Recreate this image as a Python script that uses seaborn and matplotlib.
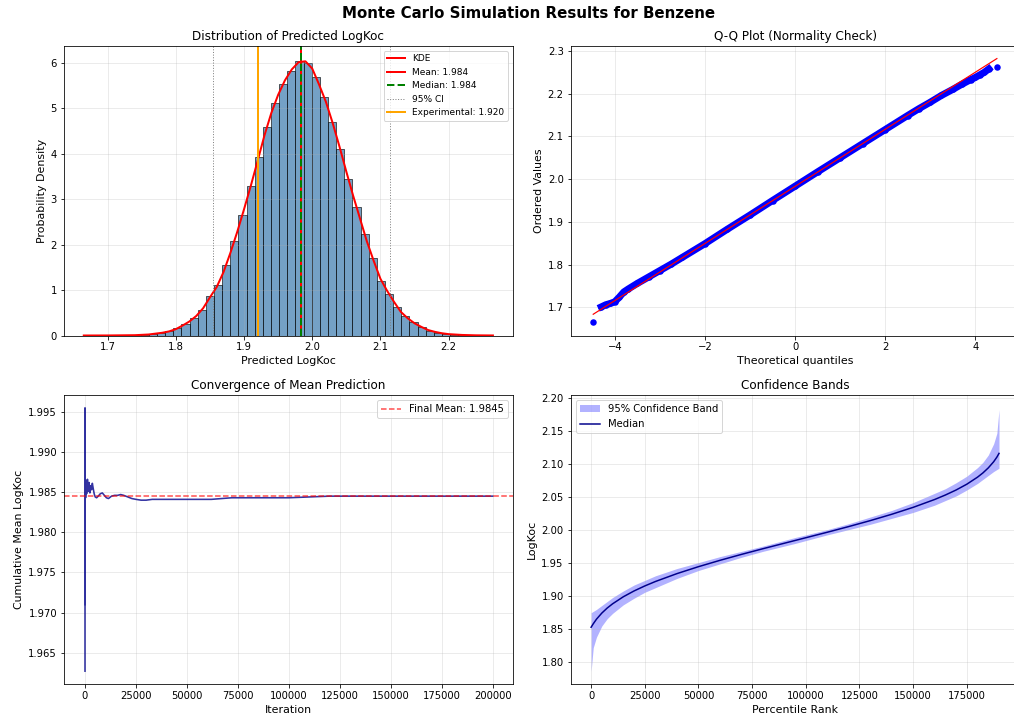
import matplotlib
matplotlib.use("Agg")
import matplotlib.pyplot as plt
import numpy as np
import pandas as pd
import seaborn as sns

# ---- Histogram of predicted LogKoc (density per bin) ----
bin_start = 1.665
bin_width = 0.01194
hist_density = [
    0.0004, 0.0004, 0.0008, 0.0015, 0.003, 0.005, 0.009, 0.016, 0.028, 0.05,
    0.09, 0.16, 0.26, 0.38, 0.56, 0.86, 1.12, 1.55, 2.09, 2.66,
    3.29, 3.94, 4.60, 5.13, 5.55, 5.83, 6.05, 6.00, 5.69, 5.26,
    4.71, 4.10, 3.44, 2.84, 2.23, 1.70, 1.21, 0.92, 0.62, 0.42,
    0.29, 0.18, 0.11, 0.066, 0.04, 0.022, 0.012, 0.006, 0.003, 0.0015,
]

# Kernel density estimate of the same predictions
kde_x = [1.665, 1.70, 1.74, 1.76, 1.78, 1.79, 1.80, 1.81, 1.82, 1.83, 1.84,
         1.85, 1.86, 1.87, 1.88, 1.89, 1.90, 1.91, 1.92, 1.93, 1.94, 1.95,
         1.96, 1.97, 1.98, 1.99, 2.00, 2.01, 2.02, 2.03, 2.04, 2.05, 2.06,
         2.07, 2.08, 2.09, 2.10, 2.11, 2.12, 2.13, 2.14, 2.15, 2.16, 2.17,
         2.18, 2.19, 2.20, 2.22, 2.24, 2.265]
kde_y = [0.000, 0.001, 0.007, 0.022, 0.06, 0.09, 0.14, 0.22, 0.31, 0.43, 0.60,
         0.84, 1.07, 1.40, 1.82, 2.28, 2.78, 3.30, 3.85, 4.41, 4.90, 5.30,
         5.62, 5.86, 6.02, 6.04, 5.88, 5.53, 5.15, 4.68, 4.16, 3.61, 3.08,
         2.58, 2.08, 1.65, 1.25, 0.98, 0.74, 0.52, 0.38, 0.27, 0.19, 0.12,
         0.08, 0.05, 0.03, 0.012, 0.004, 0.001]

mean_value = 1.984
median_value = 1.984
ci_low, ci_high = 1.854, 2.114
experimental_value = 1.920

# ---- Q-Q plot ----
qq_theoretical = [-4.48, -4.30, -4.20, -4.10, -4.00, -3.90, -3.80, -3.70, -3.50,
                  -3.25, -3.00, -2.75, -2.50, -2.00, -1.50, -1.00, -0.50, 0.00,
                  0.50, 1.00, 1.50, 2.00, 2.50, 2.75, 3.00, 3.25, 3.50, 3.70,
                  3.90, 4.00, 4.10, 4.20, 4.30, 4.48]
qq_ordered = [1.665, 1.701, 1.706, 1.709, 1.713, 1.724, 1.736, 1.743, 1.756,
              1.771, 1.786, 1.801, 1.817, 1.849, 1.883, 1.916, 1.950, 1.9835,
              2.017, 2.050, 2.083, 2.116, 2.149, 2.165, 2.180, 2.196, 2.210,
              2.222, 2.233, 2.238, 2.244, 2.250, 2.258, 2.262]
qq_fit_slope = 0.0668
qq_fit_intercept = 1.983

# ---- Running mean convergence ----
conv_iter = [1, 2, 3, 4, 6, 10, 20, 40, 80, 150, 300, 500, 800, 1200, 1600,
             2000, 2400, 2800, 3200, 3600, 4000, 4500, 5000, 5700, 6500, 7500,
             8500, 9500, 10500, 11500, 13000, 14500, 16000, 17500, 19000,
             21000, 23000, 25000, 27500, 30000, 33000, 37000, 42000, 47000,
             52000, 57000, 62000, 67000, 72000, 80000, 90000, 100000, 110000,
             120000, 130000, 145000, 160000, 175000, 190000, 200000]
conv_mean = [1.9627, 1.9955, 1.9710, 1.9905, 1.9760, 1.9880, 1.9800, 1.9870,
             1.9835, 1.9866, 1.9843, 1.9864, 1.9848, 1.9866, 1.9851, 1.9862,
             1.9849, 1.9858, 1.9853, 1.9861, 1.9855, 1.9848, 1.9844, 1.9843,
             1.9845, 1.9848, 1.9849, 1.9846, 1.9843, 1.9842, 1.9845, 1.9846,
             1.9846, 1.9847, 1.9846, 1.9844, 1.9842, 1.9841, 1.9840, 1.9840,
             1.9841, 1.9841, 1.9841, 1.9841, 1.9841, 1.9841, 1.9841, 1.9842,
             1.9843, 1.9843, 1.9843, 1.9843, 1.9844, 1.9845, 1.9845, 1.9845,
             1.9845, 1.9845, 1.9845, 1.9845]
final_mean = 1.9845

# ---- Confidence bands over percentile rank ----
band_rank = [0, 1000, 2500, 5000, 7500, 10000, 15000, 20000, 25000, 30000,
             40000, 50000, 60000, 70000, 80000, 95000, 110000, 120000, 130000,
             140000, 150000, 160000, 165000, 170000, 175000, 180000, 182500,
             185000, 187500, 189000, 190000]
band_median = [1.853, 1.8582, 1.8652, 1.8745, 1.8821, 1.8885, 1.8992, 1.9080,
               1.9156, 1.9224, 1.9343, 1.9448, 1.9544, 1.9634, 1.9720, 1.9845,
               1.9970, 2.0056, 2.0146, 2.0242, 2.0347, 2.0466, 2.0534, 2.0610,
               2.0698, 2.0805, 2.0869, 2.0945, 2.1038, 2.1108, 2.1165]
band_lower = [1.786, 1.822, 1.838, 1.855, 1.866, 1.874, 1.887, 1.897, 1.906,
              1.913, 1.927, 1.939, 1.949, 1.959, 1.968, 1.980, 1.993, 2.001,
              2.009, 2.018, 2.027, 2.038, 2.045, 2.052, 2.061, 2.071, 2.077,
              2.083, 2.089, 2.092, 2.094]
band_upper = [1.875, 1.877, 1.880, 1.886, 1.892, 1.898, 1.908, 1.917, 1.924,
              1.931, 1.942, 1.951, 1.960, 1.968, 1.976, 1.989, 2.001, 2.010,
              2.020, 2.030, 2.042, 2.056, 2.063, 2.072, 2.082, 2.095, 2.103,
              2.114, 2.131, 2.147, 2.183]

# ---------------------------------------------------------------------------
plt.rcParams.update({
    "font.family": ["DejaVu Sans"],
    "font.size": 10,
    "axes.titlesize": 12,
    "axes.labelsize": 11,
    "xtick.labelsize": 10,
    "ytick.labelsize": 10,
    "legend.fontsize": 10,
})

W, H = 1014, 721
fig = plt.figure(figsize=(W / 72, H / 72), dpi=72)


def px_axes(left, top, right, bottom):
    return fig.add_axes([left / W, 1 - bottom / H, (right - left) / W, (bottom - top) / H])


ax_hist = px_axes(64, 46.3, 512.7, 335.5)
ax_qq = px_axes(570.7, 46.3, 1019.4, 335.5)
ax_conv = px_axes(64, 395, 512.7, 684)
ax_band = px_axes(570.7, 395, 1019.4, 684)

# Histogram + KDE
n_bins = len(hist_density)
edges = [bin_start + bin_width * i for i in range(n_bins + 1)]
hist_df = pd.DataFrame({
    "center": [(edges[i] + edges[i + 1]) / 2 for i in range(n_bins)],
    "density": hist_density,
})
sns.histplot(data=hist_df, x="center", weights="density", bins=edges,
             stat="count", color="steelblue", alpha=0.75, edgecolor="black",
             linewidth=0.6, ax=ax_hist)
sns.lineplot(x=kde_x, y=kde_y, color="red", linewidth=2, sort=False,
             label="KDE", ax=ax_hist)
ax_hist.axvline(mean_value, color="red", linewidth=2, label=f"Mean: {mean_value:.3f}")
ax_hist.axvline(median_value, color="green", linestyle="--", linewidth=2,
                label=f"Median: {median_value:.3f}")
ax_hist.axvline(ci_low, color="gray", linestyle=":", linewidth=1, label="95% CI")
ax_hist.axvline(ci_high, color="gray", linestyle=":", linewidth=1)
ax_hist.axvline(experimental_value, color="orange", linewidth=2,
                label=f"Experimental: {experimental_value:.3f}")
ax_hist.set_xlim(1.636, 2.294)
ax_hist.set_ylim(0, 6.37)
ax_hist.set_xlabel("Predicted LogKoc")
ax_hist.set_ylabel("Probability Density")
ax_hist.set_title("Distribution of Predicted LogKoc")
ax_hist.legend(loc="upper right", fontsize=9)
ax_hist.grid(True, alpha=0.3)

# Q-Q plot
sns.lineplot(x=qq_theoretical[1:-1], y=qq_ordered[1:-1], color="blue",
             linewidth=7, sort=False, ax=ax_qq)
sns.scatterplot(x=qq_theoretical, y=qq_ordered, color="blue", s=42,
                linewidth=0, ax=ax_qq)
fit_x = np.array([qq_theoretical[0], qq_theoretical[-1]])
sns.lineplot(x=fit_x, y=qq_fit_intercept + qq_fit_slope * fit_x, color="red",
             linewidth=1.2, ax=ax_qq)
ax_qq.set_xlim(-4.98, 4.98)
ax_qq.set_ylim(1.634, 2.311)
ax_qq.set_xlabel("Theoretical quantiles")
ax_qq.set_ylabel("Ordered Values")
ax_qq.set_title("Q-Q Plot (Normality Check)")
ax_qq.grid(True, alpha=0.3)

# Convergence of the running mean
sns.lineplot(x=conv_iter, y=conv_mean, color="darkblue", linewidth=1.6,
             alpha=0.8, sort=False, ax=ax_conv)
ax_conv.axhline(final_mean, color="red", linestyle="--", alpha=0.7,
                label=f"Final Mean: {final_mean:.4f}")
ax_conv.set_xlim(-10300, 209800)
ax_conv.set_ylim(1.9611, 1.9971)
ax_conv.set_xlabel("Iteration")
ax_conv.set_ylabel("Cumulative Mean LogKoc")
ax_conv.set_title("Convergence of Mean Prediction")
ax_conv.legend(loc="upper right")
ax_conv.grid(True, alpha=0.3)

# Confidence band
ax_band.fill_between(band_rank, band_lower, band_upper, color="blue",
                     alpha=0.3, linewidth=0, label="95% Confidence Band")
sns.lineplot(x=band_rank, y=band_median, color="darkblue", linewidth=1.5,
             label="Median", ax=ax_band)
ax_band.set_ylim(1.767, 2.205)
ax_band.set_xlabel("Percentile Rank")
ax_band.set_ylabel("LogKoc")
ax_band.set_title("Confidence Bands")
ax_band.legend(loc="upper left")
ax_band.grid(True, alpha=0.3)

fig.suptitle("Monte Carlo Simulation Results for Benzene", fontsize=15,
             fontweight="bold", x=529 / W, y=1 - 14 / H, va="center")

fig.savefig("out.png", dpi=72)
